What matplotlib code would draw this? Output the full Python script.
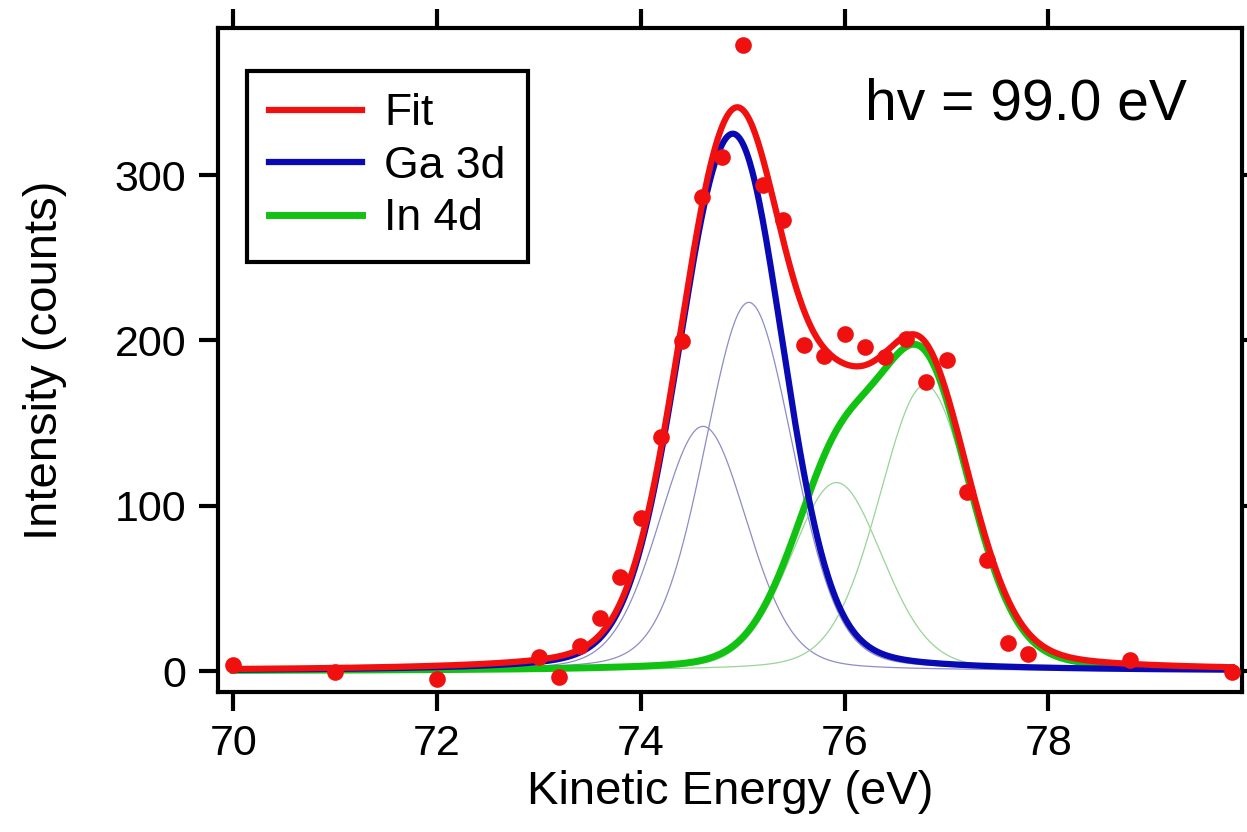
import numpy as np
import matplotlib
matplotlib.use("Agg")
import matplotlib.pyplot as plt

# ---- data ----
energy = [70.0, 71.0, 72.0, 73.0, 73.2, 73.4, 73.6, 73.8, 74.0, 74.2, 74.4,
          74.6, 74.8, 75.0, 75.2, 75.4, 75.6, 75.8, 76.0, 76.2, 76.4, 76.6,
          76.8, 77.0, 77.2, 77.4, 77.6, 77.8, 78.8, 79.8]
counts = [3.6, -0.6, -5.0, 8.5, -3.6, 15.0, 32.0, 57.0, 92.5, 141.5, 199.6,
          286.7, 311.0, 379.0, 294.0, 273.0, 197.0, 190.6, 204.0, 196.0, 190.0,
          201.0, 175.0, 188.0, 108.0, 67.0, 17.0, 10.0, 6.6, -0.8]

# fitted peak components (pseudo-Voigt): centre (eV), height (counts), FWHM (eV)
ga_centers = [74.61, 75.06]
ga_heights = [148.0, 223.0]
ga_fwhm = [1.03, 1.03]
in_centers = [75.92, 76.79]
in_heights = [114.0, 173.0]
in_fwhm = [1.07, 1.07]
lor_fraction = 0.2

xticks = [70, 72, 74, 76, 78]
yticks = [0, 100, 200, 300]


def pvoigt(x, h, c, w, eta):
    u = 4.0 * (x - c) ** 2 / w ** 2
    return h * ((1 - eta) * np.exp(-np.log(2) * u) + eta / (1 + u))


plt.rcParams['font.family'] = ['Liberation Sans', 'DejaVu Sans']

fig = plt.figure(figsize=(12.47, 8.32), dpi=100)
ax = fig.add_axes([218 / 1247, 1 - 692 / 832, (1242 - 218) / 1247, (692 - 28) / 832])

x = np.linspace(70.0, 79.8, 1200)
ga_parts = [pvoigt(x, h, c, w, lor_fraction) for h, c, w in zip(ga_heights, ga_centers, ga_fwhm)]
in_parts = [pvoigt(x, h, c, w, lor_fraction) for h, c, w in zip(in_heights, in_centers, in_fwhm)]
ga_tot = ga_parts[0] + ga_parts[1]
in_tot = in_parts[0] + in_parts[1]
fit = ga_tot + in_tot

for p in ga_parts:
    ax.plot(x, p, color='#8c8cc8', lw=0.9, zorder=2)
for p in in_parts:
    ax.plot(x, p, color='#98d498', lw=0.9, zorder=2)

ax.plot(x, in_tot, color='#12c212', lw=5.0, zorder=3, label='In 4d')
ax.plot(x, ga_tot, color='#0a0ab4', lw=4.5, zorder=4, label='Ga 3d')
ax.plot(x, fit, color='#f01010', lw=4.5, zorder=5, label='Fit')
ax.plot(energy, counts, 'o', color='#f01010', ms=12, mec='none', zorder=6)

ax.set_xlim(69.85, 79.9)
ax.set_ylim(-12.7, 389)
ax.set_xticks(xticks)
ax.set_yticks(yticks)
ax.minorticks_off()

for s in ax.spines.values():
    s.set_linewidth(3.0)
ax.tick_params(axis='both', which='major', direction='out', length=14, width=3.0,
               labelsize=31, pad=9, top=True, right=True, labeltop=False, labelright=False)

ax.set_xlabel('Kinetic Energy (eV)', fontsize=34, labelpad=4)
ax.set_ylabel('Intensity (counts)', fontsize=34, labelpad=34)

handles, labels = ax.get_legend_handles_labels()
order = [2, 1, 0]
leg = ax.legend([handles[i] for i in order], [labels[i] for i in order],
                loc='upper left', bbox_to_anchor=(0.028, 0.935), fontsize=32,
                frameon=True, fancybox=False, edgecolor='black', framealpha=1,
                handlelength=2.1, handletextpad=0.5, labelspacing=0.26,
                borderpad=0.5, borderaxespad=0)
leg.get_frame().set_linewidth(3.0)

ax.text(0.632, 0.862, 'hv = 99.0 eV', transform=ax.transAxes, fontsize=41,
        ha='left', va='baseline')

fig.savefig('out.png', dpi=100)
